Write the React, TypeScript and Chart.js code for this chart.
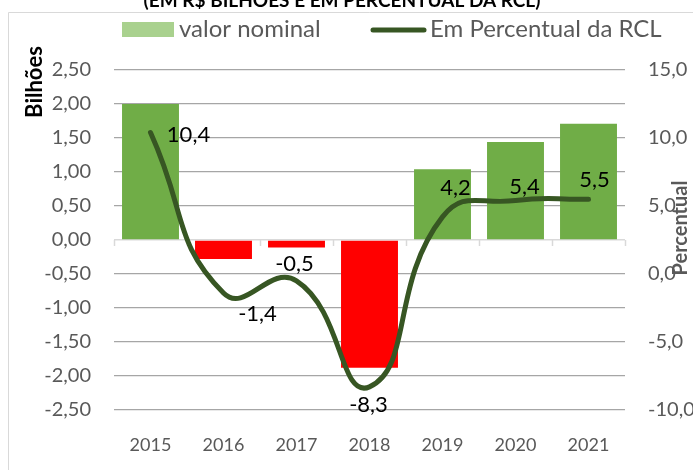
import React, { useEffect, useRef } from "react";
import { Chart, registerables } from "chart.js";

Chart.register(...registerables);

// ---- data ----
const years = ["2015", "2016", "2017", "2018", "2019", "2020", "2021"];
const nominalValues = [2.0, -0.28, -0.11, -1.88, 1.04, 1.44, 1.71];
const rclPercent = [10.4, -1.4, -0.5, -8.3, 4.2, 5.4, 5.5];
const titleText = "(EM R$ BILHÕES E EM PERCENTUAL DA RCL)";
const legendBarLabel = "valor nominal";
const legendLineLabel = "Em Percentual da RCL";
const leftAxisTitle = "Bilhões";
const rightAxisTitle = "Percentual";
const leftMin = -2.5;
const leftMax = 2.5;
const leftStep = 0.5;
const rightMin = -10;
const rightMax = 15;
const rightStep = 5;

// ---- style config ----
const labelOffsets: [number, number][] = [
  [38, 2],
  [34, 21],
  [-2, -17],
  [-1, 18],
  [13, -29],
  [9, -14],
  [6, -19],
];
const FONT = "Lato, 'Open Sans', sans-serif";
const GREEN = "#70AD47";
const RED = "#FF0000";
const LINE = "#375623";
const LEGEND_GREEN = "#A9D18E";
const TXT = "#595959";

const fmt = (v: number, d: number) => v.toFixed(d).replace(".", ",");

const decorPlugin = {
  id: "decor",
  beforeDraw(chart: any) {
    const ctx = chart.ctx;
    ctx.save();
    ctx.fillStyle = "#ffffff";
    ctx.fillRect(0, 0, chart.width, chart.height);
    ctx.strokeStyle = "#d9d9d9";
    ctx.lineWidth = 1;
    ctx.beginPath();
    ctx.moveTo(8.5, chart.height + 5);
    ctx.lineTo(8.5, 12.5);
    ctx.lineTo(chart.width + 5, 12.5);
    ctx.stroke();
    ctx.restore();
  },
  beforeDatasetsDraw(chart: any) {
    const ctx = chart.ctx;
    const x = chart.scales.x;
    const y = chart.scales.y;
    const y0 = y.getPixelForValue(0);
    const n = years.length;
    const w = (x.right - x.left) / n;
    ctx.save();
    ctx.strokeStyle = "#d9d9d9";
    ctx.lineWidth = 1.5;
    ctx.beginPath();
    for (let i = 0; i <= n; i++) {
      const px = Math.round(x.left + i * w) + 0.5;
      ctx.moveTo(px, y0);
      ctx.lineTo(px, y0 + 6);
    }
    ctx.stroke();
    ctx.restore();
  },
  afterDatasetsDraw(chart: any) {
    const ctx = chart.ctx;
    const meta = chart.getDatasetMeta(0);
    ctx.save();
    ctx.font = `22px ${FONT}`;
    ctx.fillStyle = "#000000";
    ctx.textAlign = "center";
    ctx.textBaseline = "middle";
    meta.data.forEach((pt: any, i: number) => {
      const [dx, dy] = labelOffsets[i] || [0, -15];
      ctx.fillText(fmt(rclPercent[i], 1), pt.x + dx, pt.y + dy);
    });
    ctx.restore();
  },
  afterDraw(chart: any) {
    const ctx = chart.ctx;
    ctx.save();
    // title (clipped at top)
    ctx.font = `bold 19px ${FONT}`;
    ctx.fillStyle = "#000000";
    ctx.textAlign = "center";
    ctx.textBaseline = "alphabetic";
    ctx.fillText(titleText, 342, 7);
    // legend
    ctx.fillStyle = LEGEND_GREEN;
    ctx.fillRect(122, 22, 52, 15);
    ctx.font = `24px ${FONT}`;
    ctx.fillStyle = TXT;
    ctx.textAlign = "left";
    ctx.textBaseline = "middle";
    ctx.fillText(legendBarLabel, 179, 29);
    ctx.strokeStyle = LINE;
    ctx.lineWidth = 5;
    ctx.lineCap = "round";
    ctx.beginPath();
    ctx.moveTo(373, 30);
    ctx.lineTo(424, 30);
    ctx.stroke();
    ctx.fillText(legendLineLabel, 430, 29);
    // axis titles
    ctx.font = `bold 22px ${FONT}`;
    ctx.fillStyle = "#000000";
    ctx.textAlign = "center";
    ctx.translate(35, 82);
    ctx.rotate(-Math.PI / 2);
    ctx.fillText(leftAxisTitle, 0, 0);
    ctx.setTransform(1, 0, 0, 1, 0, 0);
    ctx.font = `bold 20px ${FONT}`;
    ctx.fillStyle = TXT;
    ctx.translate(681, 228);
    ctx.rotate(-Math.PI / 2);
    ctx.fillText(rightAxisTitle, 0, 0);
    ctx.restore();
  },
};

export default function App() {
  const ref = useRef<HTMLCanvasElement | null>(null);
  useEffect(() => {
    if (!ref.current) return;
    const chart = new Chart(ref.current, {
      type: "bar",
      data: {
        labels: years,
        datasets: [
          {
            type: "line",
            label: legendLineLabel,
            data: rclPercent,
            yAxisID: "y2",
            borderColor: LINE,
            borderWidth: 5,
            tension: 0.5,
            pointRadius: 0,
            borderCapStyle: "round",
            fill: false,
            order: 0,
          } as any,
          {
            type: "bar",
            label: legendBarLabel,
            data: nominalValues,
            yAxisID: "y",
            backgroundColor: nominalValues.map((v) => (v >= 0 ? GREEN : RED)),
            barPercentage: 0.78,
            categoryPercentage: 1,
            order: 1,
          },
        ],
      },
      options: {
        responsive: false,
        animation: false,
        devicePixelRatio: 1,
        layout: { padding: { left: 0, right: 0, top: 70, bottom: 0 } },
        plugins: {
          legend: { display: false },
          tooltip: { enabled: false },
          title: { display: false },
        },
        scales: {
          x: {
            grid: { display: false },
            border: { display: false },
            ticks: {
              color: TXT,
              font: { family: FONT, size: 18 },
              padding: 16,
              maxRotation: 0,
            },
            afterFit: (s: any) => {
              s.height = 60;
            },
          },
          y: {
            position: "left",
            min: leftMin,
            max: leftMax,
            border: { display: false },
            grid: {
              drawTicks: false,
              color: (c: any) => (c.tick && c.tick.value === 0 ? "#d9d9d9" : "#a6a6a6"),
              lineWidth: (c: any) => (c.tick && c.tick.value === 0 ? 1.5 : 1.2),
            },
            ticks: {
              stepSize: leftStep,
              color: TXT,
              font: { family: FONT, size: 20 },
              padding: 23,
              callback: (v: any) => fmt(Number(v), 2),
            },
            afterFit: (s: any) => {
              s.width = 114;
            },
          },
          y2: {
            position: "right",
            min: rightMin,
            max: rightMax,
            border: { display: false },
            grid: { display: false, drawTicks: false },
            ticks: {
              stepSize: rightStep,
              color: TXT,
              font: { family: FONT, size: 20 },
              padding: 23,
              callback: (v: any) => fmt(Number(v), 1),
            },
            afterFit: (s: any) => {
              s.width = 105;
            },
          },
        },
      },
      plugins: [decorPlugin],
    });
    return () => chart.destroy();
  }, []);
  return (
    <div
      style={{
        position: "absolute",
        left: 0,
        top: 0,
        width: 693,
        height: 470,
        overflow: "hidden",
        background: "#fff",
      }}
    >
      <canvas ref={ref} width={730} height={470} style={{ width: 730, height: 470, display: "block" }} />
    </div>
  );
}
